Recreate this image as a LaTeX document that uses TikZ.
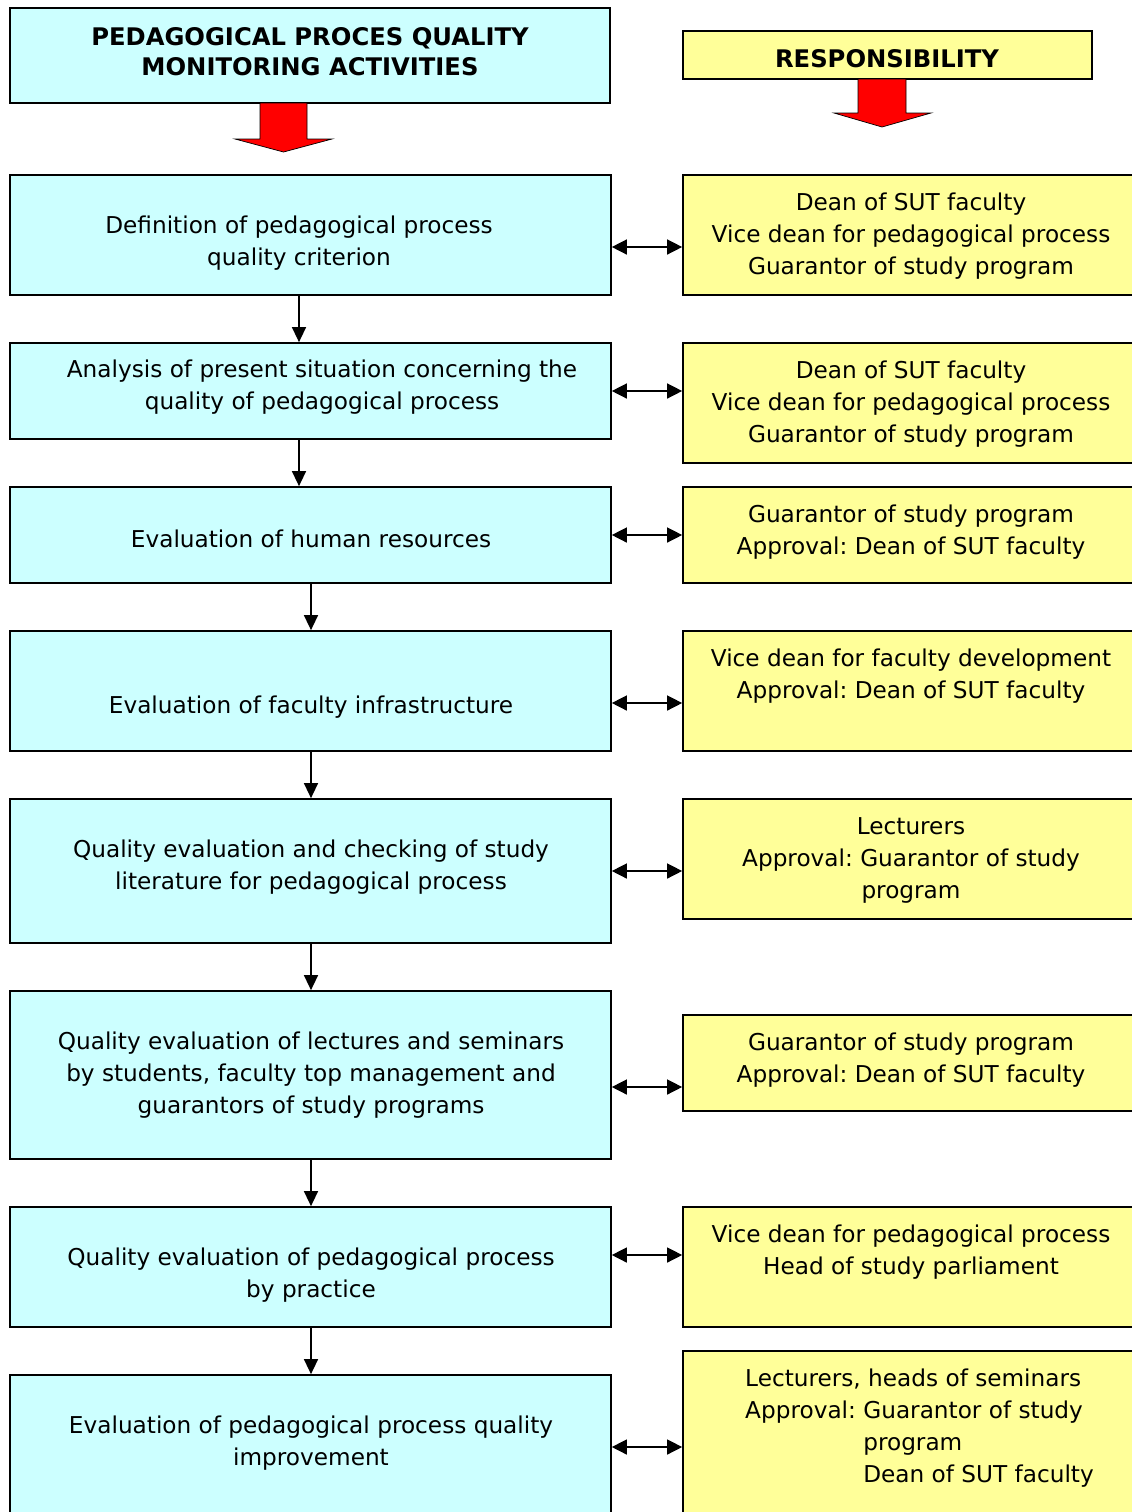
\documentclass[tikz,border=0pt]{standalone}
\usepackage{fontspec}
\setmainfont{DejaVu Sans}
\usetikzlibrary{arrows.meta, positioning, calc}
\definecolor{ccyan}{HTML}{CCFFFF}
\definecolor{cyellow}{HTML}{FFFF99}
\definecolor{cred}{HTML}{FF0000}
\tikzset{
  box/.style={draw=black, fill=#1, line width=1pt, inner sep=0pt},
  lbox/.style={box=ccyan, minimum width=12.02cm},
  rbox/.style={box=cyellow, minimum width=9.14cm},
  txt/.style={align=center, inner sep=0pt, font=\fontsize{13.2}{18.2}\selectfont\frenchspacing},
  head/.style={align=center, inner sep=0pt, font=\bfseries\fontsize{13.8}{17}\selectfont},
  arrow/.style={-{Triangle[length=0.3cm, width=0.28cm]}, line width=0.8pt},
  both/.style={{Triangle[length=0.3cm, width=0.3cm]}-{Triangle[length=0.3cm, width=0.3cm]}, line width=0.8pt},
  bigarrow/.style={fill=cred, draw=black, line width=0.4pt},
}

\begin{document}
\begin{tikzpicture}[x=0.02cm, y=-0.02cm]
  \useasboundingbox (0,0) rectangle (1132,1512);
  \clip (0,0) rectangle (1132,1512);

  % headers
  \node[box=ccyan, minimum width=12cm, minimum height=1.9cm] (hl) at (310,55.5) {};
  \node[head] (hlt) at (310,52) {PEDAGOGICAL PROCES QUALITY\\MONITORING ACTIVITIES};
  \node[box=cyellow, minimum width=8.18cm, minimum height=0.96cm] (hr) at (887.5,55) {};
  \node[head] (hrt) at (887,59) {RESPONSIBILITY};
  \draw[bigarrow] (260,103) -- (260,139) -- (235,139) -- (283.5,152) -- (332,139) -- (307,139) -- (307,103) -- cycle;
  \draw[bigarrow] (858,79) -- (858,113) -- (834,113) -- (882,127) -- (931,113) -- (906,113) -- (906,79) -- cycle;

  % activities
  \foreach \n/\cy/\h/\tx/\ty/\t in {
    1/235/2.4/299/243/{Definition of pedagogical process\\quality criterion},
    2/391/1.92/322/387/{Analysis of present situation concerning the\\quality of pedagogical process},
    3/535/1.92/311/539/{Evaluation of human resources},
    4/691/2.4/311/707/{Evaluation of faculty infrastructure},
    5/871/2.88/311/867/{Quality evaluation and checking of study\\literature for pedagogical process},
    6/1075/3.36/311/1075/{Quality evaluation of lectures and seminars\\by students, faculty top management and\\guarantors of study programs},
    7/1267/2.4/311/1275/{Quality evaluation of pedagogical process\\by practice},
    8/1452.5/3.1/311/1443/{Evaluation of pedagogical process quality\\improvement}} {
    \node[lbox, minimum height=\h cm] (l\n) at (310.5,\cy) {};
    \node[txt] (lt\n) at (\tx,\ty) {\t};
  }

  % responsibility
  \foreach \n/\cy/\h/\ty/\t in {
    1/235/2.4/236/{Dean of SUT faculty\\Vice dean for pedagogical process\\Guarantor of study program},
    2/403/2.4/404/{Dean of SUT faculty\\Vice dean for pedagogical process\\Guarantor of study program},
    3/535/1.92/532/{Guarantor of study program\\Approval: Dean of SUT faculty},
    4/691/2.4/676/{Vice dean for faculty development\\Approval: Dean of SUT faculty},
    5/859/2.4/860/{Lecturers\\Approval: Guarantor of study\\program},
    6/1063/1.92/1060/{Guarantor of study program\\Approval: Dean of SUT faculty},
    7/1267/2.4/1252/{Vice dean for pedagogical process\\Head of study parliament},
    8/1440.5/3.58/0/{}} {
    \node[rbox, minimum height=\h cm] (r\n) at (911.5,\cy) {};
    \ifnum\n<8 \node[txt] (rt\n) at (911,\ty) {\t}; \fi
  }
  \node[txt, align=left] (rt8) at (919.5,1428) {Lecturers, heads of seminars\\Approval: Guarantor of study\\\phantom{Approval: }program\\\phantom{Approval: }Dean of SUT faculty};

  % connectors
  \foreach \a/\b/\x in {1/2/299, 2/3/299, 3/4/311, 4/5/311, 5/6/311, 6/7/311, 7/8/311}
    \draw[arrow] (l\a.south -| \x,0) -- (l\b.north -| \x,0);
  \foreach \n/\y in {1/247, 2/391, 3/535, 4/703, 5/871, 6/1087, 7/1255, 8/1447}
    \draw[both] (l\n.east |- 0,\y) -- (r\n.west |- 0,\y);
\end{tikzpicture}
\end{document}
